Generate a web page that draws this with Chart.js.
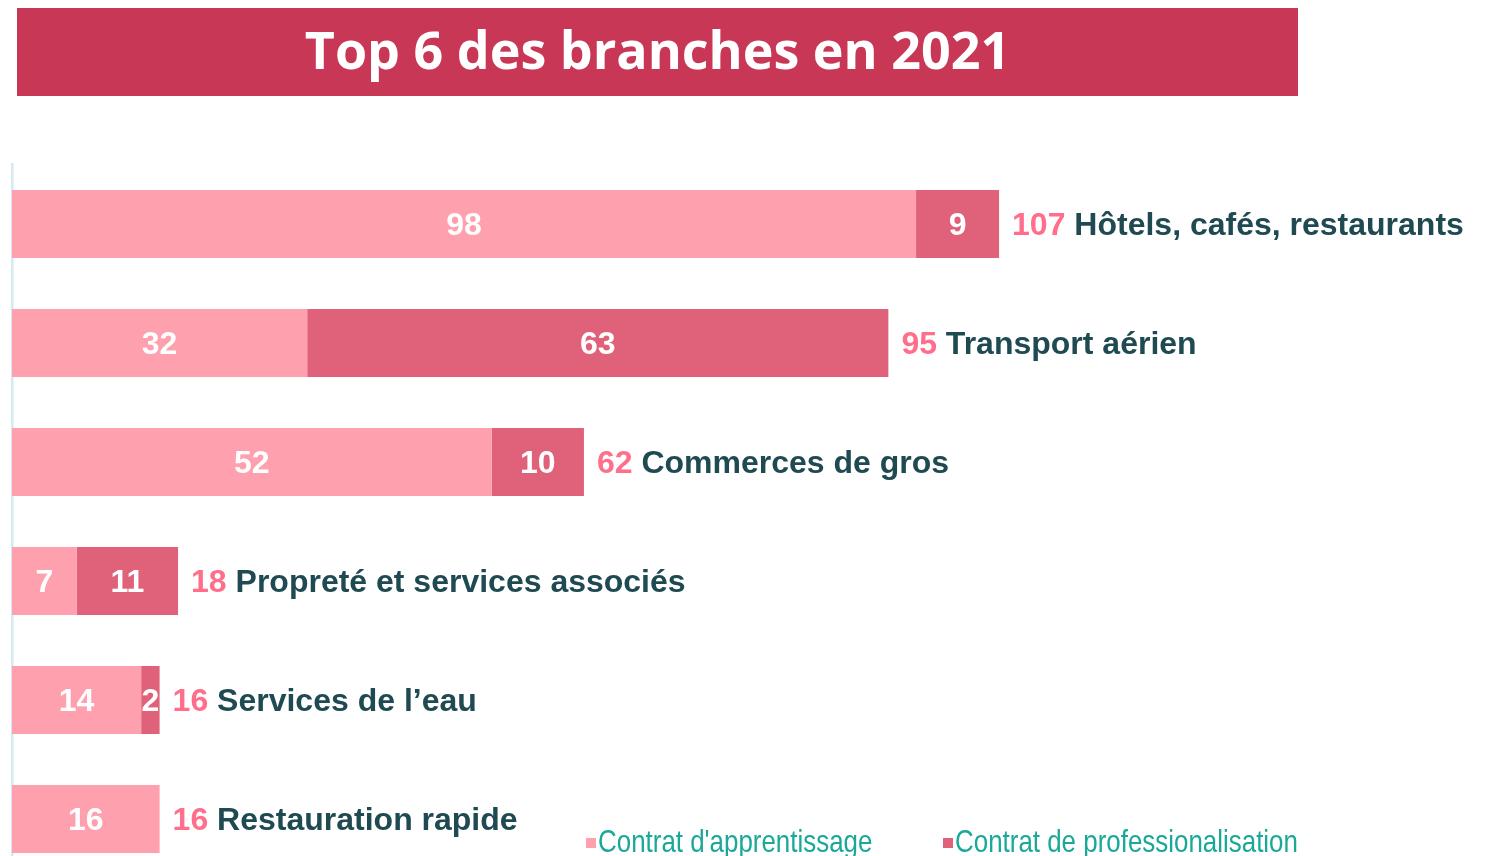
<!DOCTYPE html>
<html>
<head>
<meta charset="utf-8">
<script src="https://cdn.jsdelivr.net/npm/chart.js@4.4.1/dist/chart.umd.min.js"></script>
<style>
  html, body { margin: 0; padding: 0; background: #fff; overflow: hidden; width: 1491px; height: 856px; }
  #banner {
    position: absolute; left: 17px; top: 8px; width: 1281px; height: 83px; padding-top: 5px;
    background: #C83755; color: #fff; text-align: center; line-height: 88px;
    font: 700 52px "Open Sans", sans-serif;
  }
  #wrap { position: absolute; left: 0; top: 100px; width: 1491px; height: 800px; }
</style>
</head>
<body>
<div id="banner">Top 6 des branches en 2021</div>
<div id="wrap"><canvas id="branchChart"></canvas></div>
<script>
const categories = ['Hôtels, cafés, restaurants', 'Transport aérien', 'Commerces de gros',
                    'Propreté et services associés', 'Services de l’eau', 'Restauration rapide'];
const apprentissage = [98, 32, 52, 7, 14, 16];
const professionnalisation = [9, 63, 10, 11, 2, 0];
const totals = [107, 95, 62, 18, 16, 16];

// numbers inside the bars + total and branch name after each bar
const barLabels = {
    id: 'barLabels',
    afterDatasetsDraw(chart) {
        const ctx = chart.ctx;
        ctx.save();
        ctx.font = 'bold 32px "Liberation Sans", Arial, sans-serif';
        ctx.textBaseline = 'middle';
        chart.data.datasets.forEach((ds, i) => {
            chart.getDatasetMeta(i).data.forEach((bar, j) => {
                const v = ds.data[j];
                if (!v) return;
                ctx.fillStyle = '#ffffff';
                ctx.textAlign = 'center';
                ctx.fillText(String(v), (bar.base + bar.x) / 2, bar.y + 2);
            });
        });
        const xScale = chart.scales.x;
        const meta = chart.getDatasetMeta(0);
        totals.forEach((t, j) => {
            const y = meta.data[j].y + 2;
            let x = xScale.getPixelForValue(t) + 13;
            ctx.textAlign = 'left';
            ctx.fillStyle = '#FF6E8A';
            const s = t + ' ';
            ctx.fillText(s, x, y);
            x += ctx.measureText(s).width;
            ctx.fillStyle = '#1F4A52';
            ctx.fillText(categories[j], x, y);
        });
        ctx.restore();
    }
};

// small legend sitting at the bottom right of the plot
const cornerLegend = {
    id: 'cornerLegend',
    afterDraw(chart) {
        const ctx = chart.ctx;
        const xs = [586, 943];
        const yMid = 742;
        ctx.save();
        chart.data.datasets.forEach((ds, i) => {
            ctx.fillStyle = ds.backgroundColor;
            ctx.fillRect(xs[i], yMid - 4, 10, 10);
            ctx.save();
            ctx.translate(xs[i] + 12, yMid + 10);
            ctx.scale(0.81, 1);
            ctx.font = '32px "Liberation Sans", Arial, sans-serif';
            ctx.fillStyle = '#1AA899';
            ctx.textAlign = 'left';
            ctx.textBaseline = 'alphabetic';
            ctx.fillText(ds.label, 0, 0);
            ctx.restore();
        });
        ctx.restore();
    }
};

const ctx = document.getElementById('branchChart').getContext('2d');

new Chart(ctx, {
    type: 'bar',
    data: {
        labels: categories,
        datasets: [{
            label: "Contrat d'apprentissage",
            data: apprentissage,
            backgroundColor: '#FFA0AE'
        }, {
            label: 'Contrat de professionalisation',
            data: professionnalisation,
            backgroundColor: '#E0627A'
        }]
    },
    options: {
        indexAxis: 'y',
        responsive: true,
        maintainAspectRatio: false,
        animation: false,
        layout: { padding: { left: 12, right: 3, top: 64.5, bottom: 21.5 } },
        datasets: { bar: { categoryPercentage: 1, barPercentage: 0.57 } },
        scales: {
            x: { stacked: true, min: 0, max: 160, display: false },
            y: {
                stacked: true,
                grid: { display: false, drawTicks: false },
                ticks: { display: false },
                border: { display: true, color: '#D2EAF0', width: 2.5 }
            }
        },
        plugins: {
            legend: { display: false },
            tooltip: { enabled: false }
        }
    },
    plugins: [barLabels, cornerLegend]
});
</script>
</body>
</html>
